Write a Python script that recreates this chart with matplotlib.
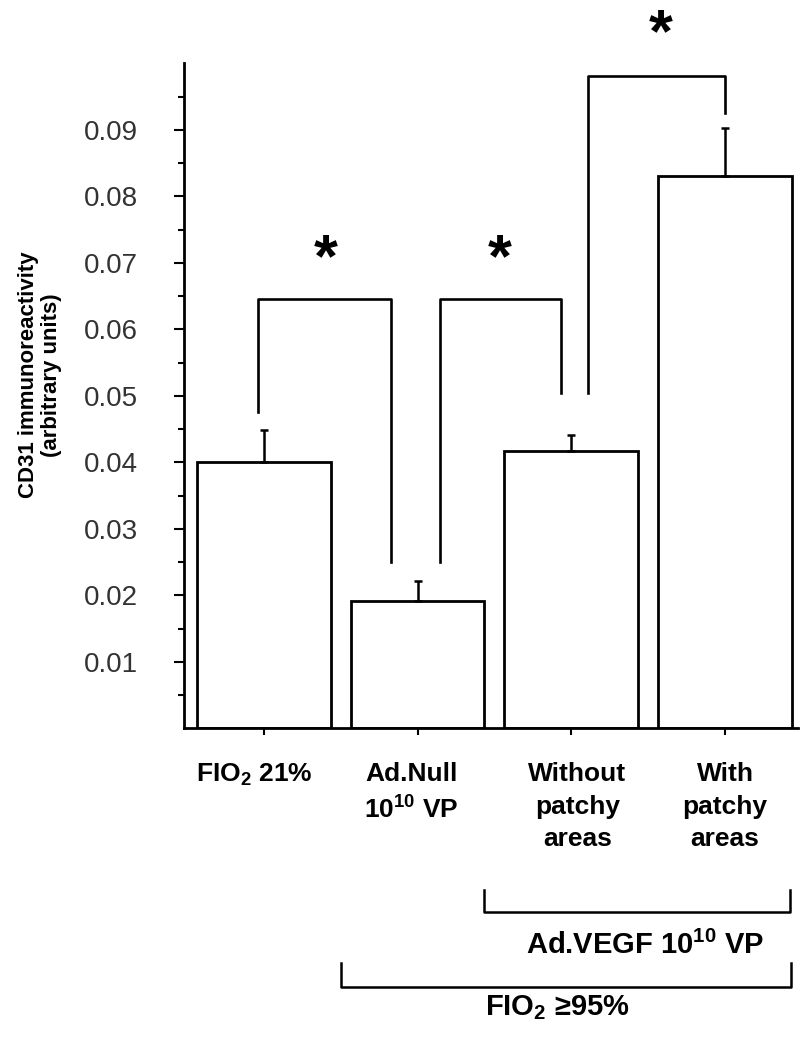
import matplotlib
matplotlib.use('Agg')
import matplotlib.pyplot as plt
from matplotlib.transforms import blended_transform_factory

plt.rcParams['mathtext.fontset'] = 'custom'
plt.rcParams['mathtext.rm'] = 'Liberation Sans:bold'
plt.rcParams['mathtext.it'] = 'Liberation Sans:bold'
plt.rcParams['mathtext.bf'] = 'Liberation Sans:bold'
plt.rcParams['mathtext.default'] = 'rm'

categories = ['FIO$_2$ 21%', 'Ad.Null\n10$^{10}$ VP', 'Without\npatchy\nareas', 'With\npatchy\nareas']
means = [0.0401, 0.0192, 0.0417, 0.0831]
err_top = [0.0449, 0.0221, 0.0441, 0.0902]
yticks = [0.01, 0.02, 0.03, 0.04, 0.05, 0.06, 0.07, 0.08, 0.09]
ytick_labels = ['0.01', '0.02', '0.03', '0.04', '0.05', '0.06', '0.07', '0.08', '0.09']

# significance brackets: (x left, y left foot, x right, y right foot, y top)
brackets = [(-0.04, 0.0475, 0.83, 0.0250, 0.0646),
            (1.145, 0.0250, 1.93, 0.0504, 0.0646),
            (2.11, 0.0504, 3.0, 0.0925, 0.0981)]
stars = [(0.40, 0.0703), (1.535, 0.0703), (2.58, 0.1042)]

plain = ['Liberation Sans', 'DejaVu Sans']

fig = plt.figure(figsize=(8.08, 10.37), dpi=100)
ax = fig.add_axes([0.2277, 0.2977, 0.760, 0.6413])

x = list(range(len(means)))
errs = [t - m for t, m in zip(err_top, means)]
ax.bar(x, means, width=0.87, color='white', edgecolor='black', linewidth=2, zorder=2)
ax.errorbar(x, means, yerr=[[0] * len(errs), errs], fmt='none', ecolor='black',
            elinewidth=1.8, capsize=3, capthick=1.8, zorder=3)

for xl, yl, xr, yr, yt in brackets:
    ax.plot([xl, xl, xr, xr], [yl, yt, yt, yr], color='black', lw=1.9, clip_on=False, zorder=4)
for sx, sy in stars:
    ax.text(sx, sy, '*', ha='center', va='center', fontsize=44, fontweight='bold',
            family=plain, clip_on=False)

ax.set_xlim(-0.52, 3.475)
ax.set_ylim(0, 0.1)
ax.set_yticks(yticks)
ax.set_yticklabels(ytick_labels, fontsize=20, color='#333333', family=plain)
ax.set_yticks([0.005 + 0.01 * i for i in range(10)], minor=True)
ax.set_xticks(x)
ax.set_xticklabels([])
ax.tick_params(axis='y', which='major', direction='out', length=7, width=1.5, pad=26)
ax.tick_params(axis='y', which='minor', direction='out', length=4, width=1.5)
ax.tick_params(axis='x', which='major', direction='out', length=5, width=1.5)
for s in ['top', 'right']:
    ax.spines[s].set_visible(False)
for s in ['left', 'bottom']:
    ax.spines[s].set_linewidth(2)

tr = blended_transform_factory(ax.transData, fig.transFigure)

def fy(py):
    return 1 - py / 1037.0

label_dx = [-0.06, -0.04, 0.04, 0.0]
for i, lab in enumerate(categories):
    ax.text(x[i] + label_dx[i], fy(762), lab, transform=tr, ha='center', va='top',
            fontsize=19, fontweight='bold', family=plain, linespacing=1.45)

# group brackets under the axis
ax.plot([1.43, 1.43, 3.42, 3.42], [fy(890), fy(912), fy(912), fy(890)], color='black', lw=1.8,
        transform=tr, clip_on=False)
ax.text(2.48, fy(945), 'Ad.VEGF 10$^{10}$ VP', transform=tr, ha='center', va='center',
        fontsize=21, fontweight='bold', family=plain)
ax.plot([0.50, 0.50, 3.43, 3.43], [fy(963), fy(987), fy(987), fy(963)], color='black', lw=1.8,
        transform=tr, clip_on=False)
ax.text(1.91, fy(1008), 'FIO$_2$ \u226595%', transform=tr, ha='center', va='center',
        fontsize=21, fontweight='bold', family=plain)

fig.text(40 / 808, fy(375), 'CD31 immunoreactivity\n(arbitrary units)', rotation=90,
         ha='center', va='center', fontsize=16, fontweight='bold', family=plain,
         multialignment='center', linespacing=1.1)

fig.savefig('out.png', dpi=100)
